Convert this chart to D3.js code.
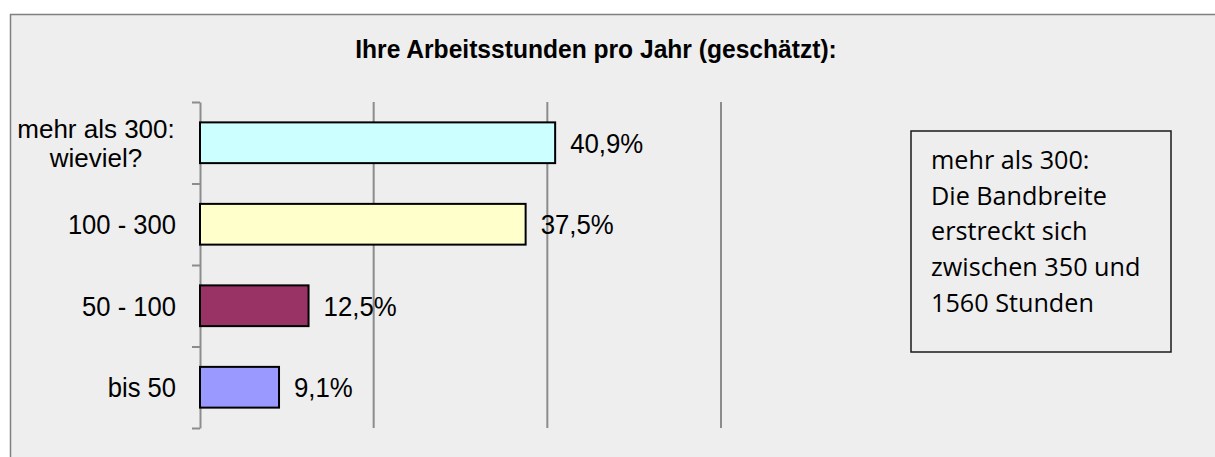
<!DOCTYPE html>
<html>
<head>
<meta charset="utf-8">
<script src="https://cdn.jsdelivr.net/npm/d3@7"></script>
<style>
  body { margin: 0; background: #fff; }
  svg { display: block; }
</style>
</head>
<body>
<div id="chart"></div>
<script>
// values
var categories = ["mehr als 300:|wieviel?", "100 - 300", "50 - 100", "bis 50"];
var values = [40.9, 37.5, 12.5, 9.1];
var gridTicks = [20, 40, 60];
var titleText = "Ihre Arbeitsstunden pro Jahr (geschätzt):";
var noteLines = ["mehr als 300:", "Die Bandbreite", "erstreckt sich", "zwischen 350 und", "1560 Stunden"];

var width = 1215, height = 457;

var svg = d3.select("#chart").append("svg")
    .attr("width", width)
    .attr("height", height);

// chart area (runs off the right / bottom edge like the screenshot)
svg.append("rect")
    .attr("x", 10.5).attr("y", 14.5)
    .attr("width", width + 20).attr("height", height + 20)
    .attr("fill", "#eeeeee")
    .attr("stroke", "#808080")
    .attr("stroke-width", 1.5);

var locale = d3.formatLocale({decimal: ",", thousands: ".", grouping: [3], currency: ["", " €"]});
var fmt = locale.format(".1f");

/* scales */
var x = d3.scaleLinear().domain([0, 60]).range([200, 721]);
var y = d3.scaleBand().domain(categories).range([102, 428])
    .paddingInner(0.5).paddingOuter(0.25);
var yEdges = d3.scaleLinear().domain([0, categories.length]).range([102, 428]);
var color = d3.scaleOrdinal().domain(categories)
    .range(["#ccffff", "#ffffcc", "#993366", "#9999ff"]);

// title
svg.append("text")
    .attr("transform", "translate(596,58) scale(1,1.05)")
    .attr("text-anchor", "middle")
    .style("font-family", "'Liberation Sans', Arial, sans-serif")
    .style("font-weight", "bold")
    .style("font-size", "24.6px")
    .attr("fill", "#000")
    .text(titleText);

// gridlines
svg.append("g").attr("class", "grid")
    .selectAll("line").data(gridTicks).enter()
    .append("line")
    .attr("x1", function(d){ return x(d); })
    .attr("x2", function(d){ return x(d); })
    .attr("y1", 102).attr("y2", 428)
    .attr("stroke", "#8c8c8c")
    .attr("stroke-width", 2);

// left axis: ticks between the categories
var axis = d3.axisLeft(yEdges)
    .tickValues(d3.range(categories.length + 1))
    .tickSize(8)
    .tickSizeOuter(0)
    .tickFormat("");
var gAxis = svg.append("g")
    .attr("transform", "translate(200,0)")
    .call(axis);
gAxis.selectAll("path, line").attr("stroke", "#8c8c8c").attr("stroke-width", 2);

// bars
svg.append("g").selectAll("rect").data(values).enter()
    .append("rect")
    .attr("x", x(0))
    .attr("y", function(d, i){ return y(categories[i]); })
    .attr("width", function(d){ return x(d) - x(0); })
    .attr("height", y.bandwidth())
    .attr("fill", function(d, i){ return color(categories[i]); })
    .attr("stroke", "#000")
    .attr("stroke-width", 2);

// value labels
svg.append("g").selectAll("text").data(values).enter()
    .append("text")
    .attr("transform", function(d, i){
        var cy = y(categories[i]) + y.bandwidth() / 2;
        return "translate(" + (x(d) + 15) + "," + (cy + 10) + ") scale(1,1.08)";
    })
    .style("font-family", "'Liberation Sans', Arial, sans-serif")
    .style("font-size", "25.8px")
    .attr("fill", "#000")
    .text(function(d){ return fmt(d) + "%"; });

// category labels
var catG = svg.append("g")
    .style("font-family", "'Liberation Sans', Arial, sans-serif")
    .attr("fill", "#000");
categories.forEach(function(c, i) {
    var cy = y(c) + y.bandwidth() / 2;
    var parts = c.split("|");
    if (parts.length > 1) {
        parts.forEach(function(p, j) {
            catG.append("text")
                .attr("transform", "translate(96," + (138 + j * 28.5) + ") scale(1,0.96)")
                .attr("text-anchor", "middle")
                .style("font-size", "26px")
                .text(p);
        });
    } else {
        catG.append("text")
            .attr("transform", "translate(176," + (cy + 10) + ") scale(1,1.08)")
            .attr("text-anchor", "end")
            .style("font-size", "25.6px")
            .text(c);
    }
});

// note box
var note = svg.append("g");
note.append("rect")
    .attr("x", 911).attr("y", 131)
    .attr("width", 260).attr("height", 221)
    .attr("fill", "none")
    .attr("stroke", "#1a1a1a")
    .attr("stroke-width", 1.5);
note.selectAll("text").data(noteLines).enter()
    .append("text")
    .attr("x", 931)
    .attr("y", function(d, i){ return 169 + i * 35.7; })
    .style("font-family", "'Open Sans', sans-serif")
    .style("font-size", "25.2px")
    .attr("fill", "#000")
    .text(function(d){ return d; });
</script>
</body>
</html>
